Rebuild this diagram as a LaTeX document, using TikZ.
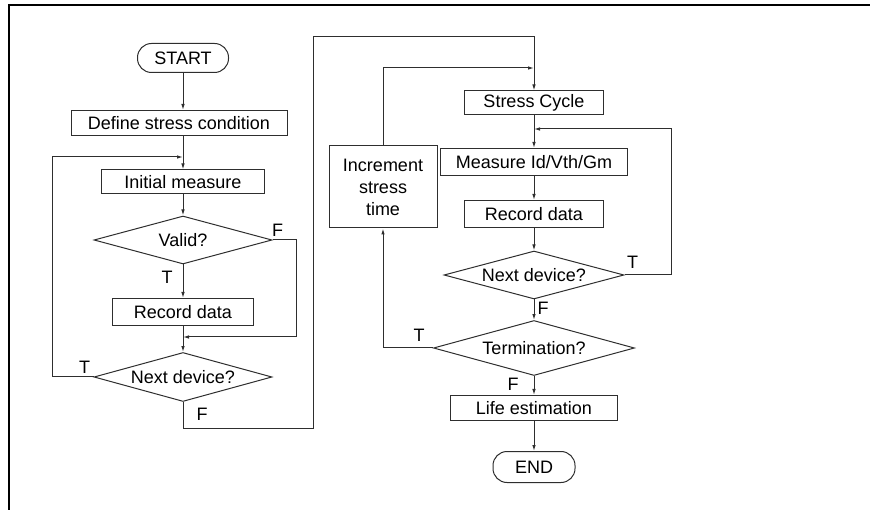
\documentclass[tikz,border=0pt]{standalone}
\usepackage{fontspec}
\setmainfont{Liberation Sans}
\usetikzlibrary{arrows.meta, positioning, shapes.geometric, calc}
\definecolor{cline}{HTML}{2E2E2E}
\tikzset{
  every picture/.style={font=\fontsize{18}{22}\selectfont, line width=1pt},
  box/.style={draw=cline, align=center, inner sep=2pt, minimum height=#1},
  box/.default=25pt,
  terminal/.style={draw=cline, rounded corners=14pt, inner sep=2pt, minimum height=29pt},
  decide/.style={draw=cline, diamond, aspect=3.6, inner sep=1pt},
  arrow/.style={-{Latex[length=6pt, width=3.5pt]}, draw=cline},
  lbl/.style={inner sep=0pt},
  pageframe/.style={draw=black, line width=2pt},
}

\begin{document}
\begin{tikzpicture}[x=1pt, y=-1pt]
  \useasboundingbox (0,0) rectangle (870,510);
  \draw[pageframe] (870,5) -- (9,5) -- (9,510);
  % left column: first measure of every device
  \node[terminal, minimum width=91pt] (start) at (183,58) {START};
  \node[box, minimum width=216pt] (define) at (179,123) {Define stress condition};
  \node[box=24pt, minimum width=163pt] (init) at (183,182) {Initial measure};
  \node[decide, minimum width=178pt, minimum height=48pt] (valid) at (183,240) {Valid?};
  \node[box=27pt, minimum width=141pt] (rec1) at (183,312) {Record data};
  \node[decide, minimum width=178pt, minimum height=49pt] (next1) at (183,377) {Next device?};
  \coordinate (jl) at (183,157); \coordinate (ll) at (52,157);
  \coordinate (jv) at (183,337); \coordinate (rv) at (296,337);
  \draw[arrow] (start.south) -- (start.south |- define.north);
  \draw[arrow] (start.south |- define.south) -- (init.north);
  \draw[arrow] (init) -- (valid); \draw[arrow] (valid) -- (rec1);
  \draw[arrow] (rec1) -- (next1);
  \draw[arrow] (valid.east) -| (rv) -- (jv);
  \draw[arrow] (next1.west) -| (ll) -- (jl);
  \node[lbl] (vF) at ($(valid.east)+(5,-10)$) {F};
  \node[lbl] (vT) at ($(valid.south)+(-16,13)$) {T};
  \node[lbl] (n1T) at ($(next1.west)+(-9,-10)$) {T};
  \node[lbl] (n1F) at ($(next1.south)+(19,12)$) {F};
  % right column: stress cycles
  \node[box=24pt, minimum width=139pt] (stress) at (534,103) {Stress Cycle};
  \node[box=27pt, minimum width=187pt] (meas) at (534,162) {Measure Id/Vth/Gm};
  \node[box=27pt, minimum width=139pt] (rec2) at (534,214) {Record data};
  \node[decide, minimum width=180pt, minimum height=48pt] (next2) at (534,275) {Next device?};
  \node[decide, minimum width=201pt, minimum height=55pt] (termin) at (534,348) {Termination?};
  \node[box=25pt, minimum width=167pt] (life) at (534,408) {Life estimation};
  \node[terminal, minimum width=82pt, minimum height=31pt] (finish) at (534,467) {END};
  \node[box=82pt, minimum width=108pt] (inc) at (383,187) {Increment\\stress\\time};
  \coordinate (j1) at (534,68);
  \coordinate (j2) at (534,129); \coordinate (r2) at (671,129);
  \coordinate (bl) at (313,428); \coordinate (tl) at (313,37);
  \draw[arrow] (next1.south) |- (bl) -- (tl) -| (stress.north);
  \draw[arrow] (stress) -- (meas); \draw[arrow] (meas) -- (rec2);
  \draw[arrow] (rec2) -- (next2); \draw[arrow] (next2) -- (termin);
  \draw[arrow] (termin) -- (life); \draw[arrow] (life) -- (finish);
  \draw[arrow] (next2.east) -| (r2) -- (j2);
  \draw[arrow] (termin.west) -| (inc.south);
  \draw[arrow] (inc.north) |- (j1);
  \node[lbl] (n2T) at ($(next2.east)+(8,-13)$) {T};
  \node[lbl] (n2F) at ($(next2.south)+(9,9)$) {F};
  \node[lbl] (tT) at ($(termin.west)+(-14,-13)$) {T};
  \node[lbl] (tF) at ($(termin.south)+(-21,8)$) {F};
\end{tikzpicture}
\end{document}
